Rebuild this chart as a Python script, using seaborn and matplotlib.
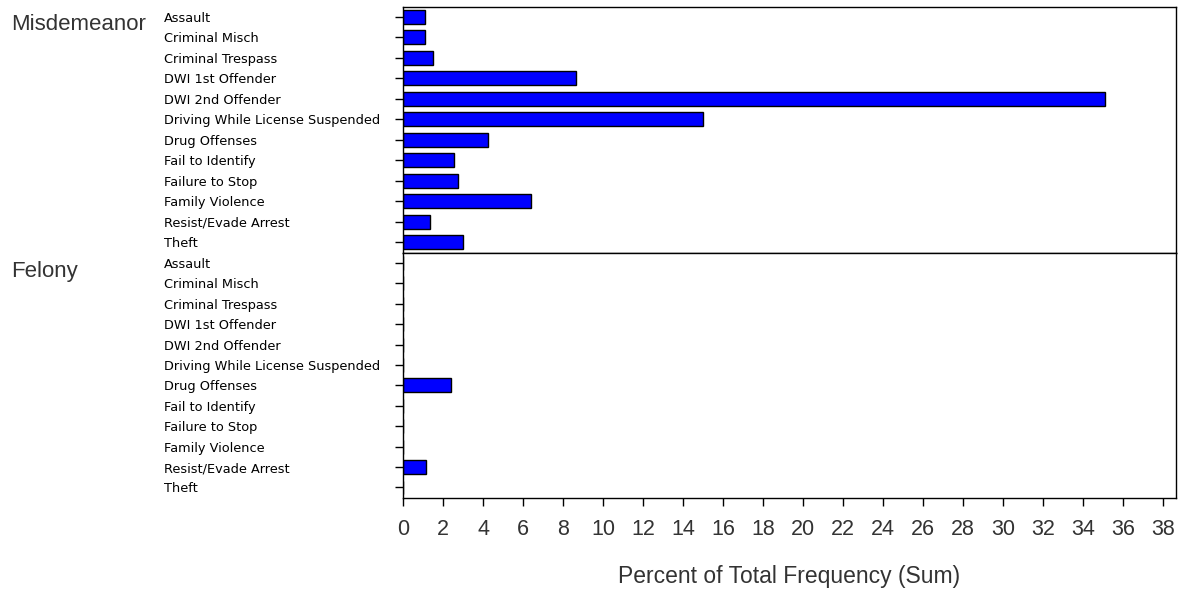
import matplotlib
matplotlib.use("Agg")
import matplotlib.pyplot as plt
import seaborn as sns
import pandas as pd
import numpy as np

categories = ["Assault", "Criminal Misch", "Criminal Trespass", "DWI 1st Offender",
              "DWI 2nd Offender", "Driving While License Suspended", "Drug Offenses",
              "Fail to Identify", "Failure to Stop", "Family Violence",
              "Resist/Evade Arrest", "Theft"]
groups = ["Misdemeanor", "Felony"]
misdemeanor = [1.08, 1.08, 1.5, 8.63, 35.08, 14.98, 4.25, 2.55, 2.77, 6.38, 1.35, 2.98]
felony = [0, 0, 0, 0, 0, 0, 2.4, 0, 0, 0, 1.13, 0]
x_ticks = list(range(0, 39, 2))
x_label = "Percent of Total Frequency (Sum)"

sns.set_style("ticks")
plt.rcParams["font.family"] = ["Liberation Sans", "DejaVu Sans"]

W, H = 1184, 592
fig = plt.figure(figsize=(W / 100, H / 100), dpi=100)

left = 403 / W
right = 1176 / W
top = 1 - 6.7 / H
mid = 1 - 252.7 / H
bottom = 1 - 497.7 / H

ax_top = fig.add_axes([left, mid, right - left, top - mid])
ax_bot = fig.add_axes([left, bottom, right - left, mid - bottom])

series = [misdemeanor, felony]
label_y = [30, 276.7]
for ax, vals, g, ly in zip([ax_top, ax_bot], series, groups, label_y):
    df = pd.DataFrame({"category": categories, "percent": vals})
    sns.barplot(data=df, x="percent", y="category", orient="h", color="#0000ff",
                saturation=1, edgecolor="black", linewidth=1.0, width=0.68, ax=ax)
    ax.set_xlim(0, 38.65)
    ax.set_ylim(len(categories) - 0.5, -0.5)
    ax.set_ylabel("")
    ax.set_xlabel("")
    for s in ax.spines.values():
        s.set_visible(True)
        s.set_color("black")
        s.set_linewidth(1.0)
    ax.tick_params(axis="y", direction="out", length=5.5, width=1.0, color="black",
                   pad=166.5, labelsize=9.3, labelcolor="black")
    for lab in ax.get_yticklabels():
        lab.set_horizontalalignment("left")
        lab.set_family(["DejaVu Sans"])
        lab.set_y(lab.get_position()[1])
    ax.set_xticks(x_ticks)
    fig.text(11 / W, 1 - ly / H, g, fontsize=16, ha="left", va="baseline",
             color="#333333")

ax_top.tick_params(axis="x", bottom=False, labelbottom=False)
ax_bot.set_xticklabels([str(t) for t in x_ticks])
ax_bot.tick_params(axis="x", direction="out", length=6, width=1.0, color="black",
                   pad=9.5, labelsize=15.5, labelcolor="#333333")
ax_bot.set_xlabel(x_label, fontsize=16.5, labelpad=18, color="#333333")

fig.savefig("out.png", dpi=100)
